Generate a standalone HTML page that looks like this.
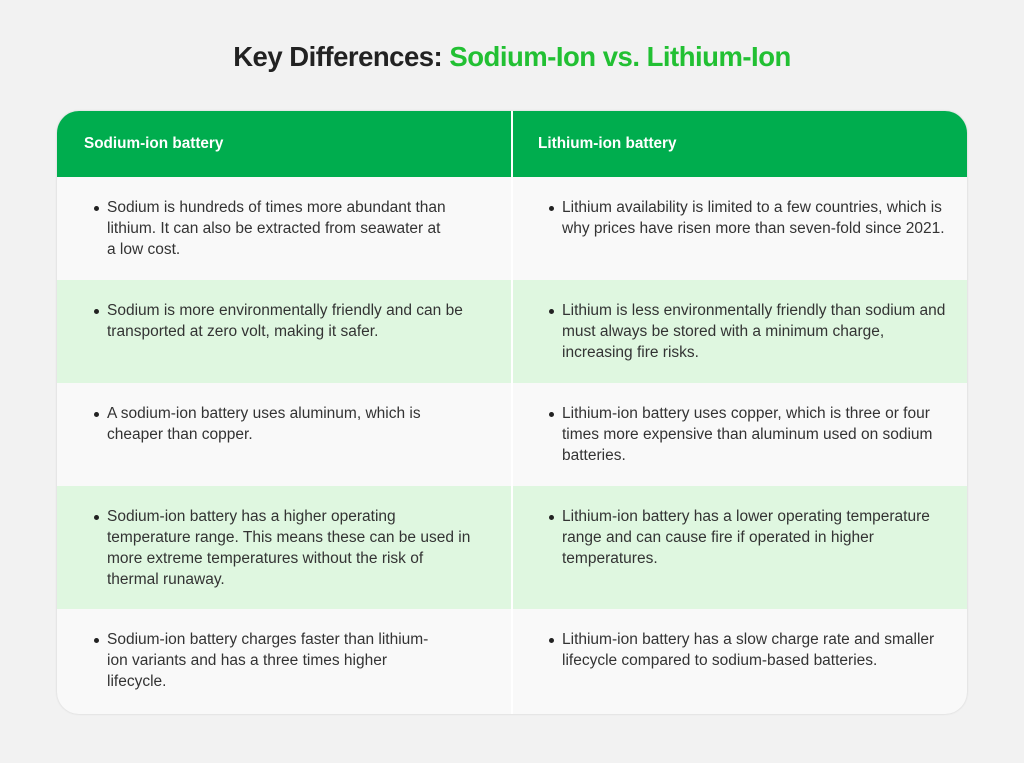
<!DOCTYPE html>
<html><head><style>
body{margin:0;width:1024px;height:763px;background:#f2f2f2;font-family:"Liberation Sans",sans-serif;position:relative;overflow:hidden}
h1{position:absolute;top:40px;left:0;width:1024px;text-align:center;margin:0;font-size:27.5px;line-height:34px;color:#222;letter-spacing:-0.5px}
h1 span{color:#22c033}
.card{position:absolute;left:57px;top:111px;width:910px;height:603px;border-radius:22px;background:#f9f9f9;overflow:hidden;box-shadow:0 0 2px rgba(0,0,0,.15)}
.row{position:absolute;left:0;width:910px}
.hd{top:0;height:66px;background:#00ad4e}
.g{background:#dff7e0}
.div{position:absolute;left:454px;top:0;width:2px;height:603px;background:#fff}
.t{position:absolute;font-size:15.5px;line-height:21px;color:#333;white-space:nowrap}
.t:before{content:"";position:absolute;left:-13px;top:9px;width:5px;height:5px;border-radius:50%;background:#222}
.h{position:absolute;top:24px;color:#fff;font-weight:bold;font-size:15.3px}
</style></head><body>
<h1>Key Differences: <span>Sodium-Ion vs. Lithium-Ion</span></h1>
<div class="card">
<div class="row hd"></div>
<div class="row g" style="top:169px;height:103px"></div>
<div class="row g" style="top:375px;height:123px"></div>
<div class="div"></div>
<div class="h" style="left:27px">Sodium-ion battery</div>
<div class="h" style="left:481px">Lithium-ion battery</div>
<div class="t" style="left:50px;top:86px">Sodium is hundreds of times more abundant than<br>lithium. It can also be extracted from seawater at<br>a low cost.</div>
<div class="t" style="left:505px;top:86px">Lithium availability is limited to a few countries, which is<br>why prices have risen more than seven-fold since 2021.</div>
<div class="t" style="left:50px;top:189px">Sodium is more environmentally friendly and can be<br>transported at zero volt, making it safer.</div>
<div class="t" style="left:505px;top:189px">Lithium is less environmentally friendly than sodium and<br>must always be stored with a minimum charge,<br>increasing fire risks.</div>
<div class="t" style="left:50px;top:292px">A sodium-ion battery uses aluminum, which is<br>cheaper than copper.</div>
<div class="t" style="left:505px;top:292px">Lithium-ion battery uses copper, which is three or four<br>times more expensive than aluminum used on sodium<br>batteries.</div>
<div class="t" style="left:50px;top:395px">Sodium-ion battery has a higher operating<br>temperature range. This means these can be used in<br>more extreme temperatures without the risk of<br>thermal runaway.</div>
<div class="t" style="left:505px;top:395px">Lithium-ion battery has a lower operating temperature<br>range and can cause fire if operated in higher<br>temperatures.</div>
<div class="t" style="left:50px;top:518px">Sodium-ion battery charges faster than lithium-<br>ion variants and has a three times higher<br>lifecycle.</div>
<div class="t" style="left:505px;top:518px">Lithium-ion battery has a slow charge rate and smaller<br>lifecycle compared to sodium-based batteries.</div>
</div>
</body></html>
